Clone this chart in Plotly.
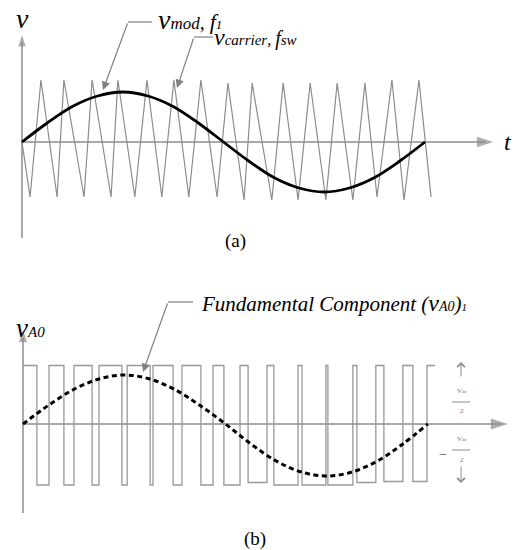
import plotly.graph_objects as go

# ---------------- data ----------------
# time in fundamental periods, voltage in units of the modulating amplitude
# (a) modulating signal v_mod
mod_t = [0, 0.0625, 0.125, 0.1875, 0.25, 0.3125, 0.375, 0.4375, 0.5,
         0.5625, 0.625, 0.6875, 0.75, 0.8125, 0.875, 0.9375, 1.0]
mod_v = [0, 0.38, 0.71, 0.92, 1.0, 0.92, 0.71, 0.38, 0,
         -0.38, -0.71, -0.92, -1.0, -0.92, -0.71, -0.38, 0]

# (a) triangular carrier v_carrier, vertices
car_t = [0, 0.020, 0.047, 0.087, 0.104, 0.154, 0.174, 0.221, 0.238, 0.280,
         0.310, 0.347, 0.377, 0.414, 0.444, 0.484, 0.511, 0.551, 0.571, 0.620,
         0.648, 0.685, 0.715, 0.754, 0.782, 0.821, 0.851, 0.881, 0.918, 0.948,
         0.985, 1.015]
car_v = [0, -1.10, 1.24, -1.10, 1.24, -1.10, 1.24, -1.10, 1.24, -1.10,
         1.24, -1.10, 1.24, -1.10, 1.24, -1.10, 1.18, -1.16, 1.18, -1.16,
         1.18, -1.16, 1.18, -1.16, 1.18, -1.16, 1.18, -1.10, 1.24, -1.16,
         1.24, -1.10]

# (b) pole voltage v_A0: switching instants and level held after each
pwm_t = [0.002, 0.037, 0.067, 0.104, 0.129, 0.174, 0.191, 0.248, 0.261, 0.318,
         0.325, 0.375, 0.397, 0.444, 0.474, 0.501, 0.541, 0.561, 0.608, 0.625,
         0.685, 0.695, 0.754, 0.759, 0.821, 0.831, 0.878, 0.898, 0.945, 0.970,
         1.005, 1.025]
pwm_v = [1.17, -1.22, 1.17, -1.22, 1.17, -1.22, 1.17, -1.22, 1.17, -1.22,
         1.17, -1.22, 1.17, -1.22, 1.17, -1.22, 1.17, -1.17, 1.17, -1.22,
         1.17, -1.22, 1.17, -1.22, 1.17, -1.17, 1.17, -1.15, 1.17, -1.15,
         1.17, 1.17]

# (b) fundamental component (v_A0)_1
fund_t = [0.0025, 0.065, 0.128, 0.191, 0.254, 0.317, 0.379, 0.442, 0.505,
          0.568, 0.631, 0.693, 0.756, 0.819, 0.882, 0.945, 1.007]
fund_v = [0, 0.37, 0.69, 0.90, 0.98, 0.90, 0.69, 0.37, 0,
          -0.40, -0.74, -0.96, -1.04, -0.96, -0.74, -0.40, 0]

# ---------------- figure ----------------
W, H = 523, 550
GREY = "#8c8c8c"
SERIF = "Times New Roman, Liberation Serif, DejaVu Serif, serif"


def P(x, y):
    return x / W, 1 - y / H


fig = go.Figure()

# axes of (a)
fig.add_trace(go.Scatter(x=[0, 1.15], y=[0, 0], mode="lines",
                         line=dict(color=GREY, width=1.5), yaxis="y"))
fig.add_trace(go.Scatter(x=[0, 0], y=[-1.92, 2.0], mode="lines",
                         line=dict(color=GREY, width=1.5), yaxis="y"))
fig.add_trace(go.Scatter(x=[1.169, 0], y=[0, 2.14], mode="markers",
                         marker=dict(symbol="arrow", angle=[90, 0], size=[17, 12],
                                     color=GREY, line=dict(width=0)), yaxis="y"))
# carrier and modulating signal
fig.add_trace(go.Scatter(x=car_t, y=car_v, mode="lines",
                         line=dict(color=GREY, width=1.2), yaxis="y"))
fig.add_trace(go.Scatter(x=mod_t, y=mod_v, mode="lines",
                         line=dict(color="black", width=2.8, shape="spline"), yaxis="y"))

# axes of (b)
fig.add_trace(go.Scatter(x=[0.0025, 1.19], y=[0, 0], mode="lines",
                         line=dict(color=GREY, width=1.5), yaxis="y2"))
fig.add_trace(go.Scatter(x=[0.0025, 0.0025], y=[-1.78, 1.72], mode="lines",
                         line=dict(color=GREY, width=1.5), yaxis="y2"))
fig.add_trace(go.Scatter(x=[1.206, 0.0025], y=[0, 1.88], mode="markers",
                         marker=dict(symbol="arrow", angle=[90, 0], size=[18, 13],
                                     color=GREY, line=dict(width=0)), yaxis="y2"))
# pulses and fundamental
fig.add_trace(go.Scatter(x=pwm_t, y=pwm_v, mode="lines",
                         line=dict(color="#999999", width=1.3, shape="hv"), yaxis="y2"))
fig.add_trace(go.Scatter(x=fund_t, y=fund_v, mode="lines",
                         line=dict(color="black", width=3, shape="spline", dash="5px,3.5px"),
                         yaxis="y2"))

ann = []
shapes = []


def text(x, y, s, size, xanchor="center", italic=True, color="black", family=SERIF):
    px_, py_ = P(x, y)
    ann.append(dict(x=px_, y=py_, xref="paper", yref="paper", text=s, showarrow=False,
                    xanchor=xanchor, yanchor="middle",
                    font=dict(family=family, size=size, color=color,
                              style="italic" if italic else "normal")))


def leader(x_end, x_corner, y_h, x_tip, y_tip):
    a, b = P(x_end, y_h)
    c, d = P(x_corner, y_h)
    shapes.append(dict(type="line", xref="paper", yref="paper", x0=a, y0=b, x1=c, y1=d,
                       line=dict(color="#808080", width=1.2)))
    tx, ty = P(x_tip, y_tip)
    ann.append(dict(x=tx, y=ty, xref="paper", yref="paper", text="", showarrow=True,
                    ax=x_corner - x_tip, ay=y_h - y_tip, arrowhead=2, arrowsize=1.4,
                    arrowwidth=1.2, arrowcolor="#808080", standoff=0, startstandoff=0))


def sp(s, size):
    return "<span style='font-size:%dpx'>%s</span>" % (size, s)


# panel (a) labels
text(22, 18.5, "v", 28)
text(156, 19, "v" + sp("mod", 17) + sp(", ", 20) + sp("f", 22) + sp("1", 13), 28, xanchor="left")
text(212, 37, "v" + sp("carrier", 15) + sp(", ", 16) + sp("f", 20) + sp("sw", 15), 24, xanchor="left")
text(508, 142, "t", 24)
leader(152, 128, 22, 103, 90)
leader(213, 194, 37, 177, 88)
text(235, 241, "(a)", 19, italic=False)

# panel (b) labels
text(14, 328, "v" + sp("A0", 15), 27, xanchor="left")
text(199, 302.6, sp("Fundamental Component (", 21) + "v" + sp("A0", 14) + sp(")", 21) + sp("1", 11),
     24, xanchor="left")
leader(193, 168, 302, 143, 372)
text(521, 421, "t", 24, xanchor="left")
text(254.5, 538.5, "(b)", 19, italic=False)

# +/- Vdc/2 markers
for (yh, yt) in [(362, 378), (483, 465)]:
    hx, hy = P(461, yh)
    ann.append(dict(x=hx, y=hy, xref="paper", yref="paper", text="", showarrow=True,
                    ax=0, ay=yt - yh, arrowhead=4, arrowsize=1.5, arrowwidth=1,
                    arrowcolor="#8c8c8c", standoff=0))
for (ytop, yline, ybot) in [(391, 402, 411), (439, 450, 460)]:
    text(462, ytop, "V" + sp("dc", 5), 7, italic=False, color="#777777")
    a, b = P(452, yline)
    c, d = P(470, yline)
    shapes.append(dict(type="line", xref="paper", yref="paper", x0=a, y0=b, x1=c, y1=d,
                       line=dict(color="#888888", width=1)))
    text(462, ybot, "2", 7, italic=False, color="#777777")
text(443, 454, "−", 14, italic=False, color="#555555")

fig.update_layout(
    width=W, height=H, autosize=False,
    margin=dict(l=0, r=0, t=0, b=0, pad=0),
    paper_bgcolor="white", plot_bgcolor="white",
    showlegend=False,
    font=dict(family=SERIF),
    xaxis=dict(range=[-22 / 403, 501 / 403], visible=False, fixedrange=True),
    yaxis=dict(domain=[0.5, 1], range=[-2.66, 2.84], visible=False, fixedrange=True),
    yaxis2=dict(domain=[0, 0.5], range=[-2.52, 2.98], visible=False, fixedrange=True),
    annotations=ann, shapes=shapes,
)

fig.write_html("out.html", config={"displayModeBar": False},
               post_script="document.body.style.margin='0px';document.body.style.overflow='hidden';")
